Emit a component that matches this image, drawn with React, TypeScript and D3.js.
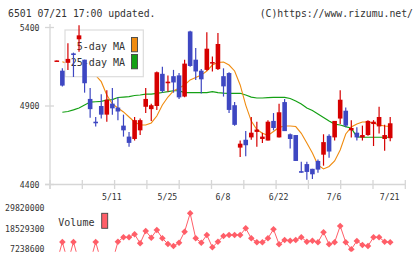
import * as d3 from "d3"
import * as React from "react"

// daily candles, oldest first
const opens = [
  5190, 5125, 5175, 5235, 5325, 5195, 4945, 4800, 4900, 4845,
  4915, 4890, 4775, 4705, 4690, 4745, 4895, 4880, 4900, 5105,
  5045, 5090, 5095, 4960, 5375, 5195, 5125, 5130, 5170, 5135,
  5090, 5110, 4905, 4635, 4685, 4700, 4735, 4690, 4680, 4805,
  4700, 4925, 4720, 4715, 4485, 4530, 4500, 4550, 4590, 4710,
  4700, 4820, 4870, 4745, 4730, 4700, 4715, 4785, 4770, 4690,
  4695,
]
const highs = [
  5192, 5140, 5300, 5240, 5415, 5195, 5015, 4830, 4975, 5000,
  5015, 4955, 4845, 4735, 4830, 4820, 5015, 4915, 5120, 5150,
  5095, 5130, 5110, 5195, 5380, 5270, 5135, 5370, 5215, 5365,
  5140, 5115, 4925, 4680, 4740, 4830, 4800, 4730, 4810, 4855,
  4915, 4945, 4725, 4715, 4545, 4545, 4500, 4560, 4720, 4720,
  4805, 5000, 4890, 4810, 4765, 4775, 4810, 4810, 4895, 4780,
  4830,
]
const lows = [
  5188, 5025, 5130, 5085, 5245, 4985, 4825, 4770, 4820, 4800,
  4845, 4810, 4705, 4640, 4680, 4715, 4855, 4805, 4875, 4985,
  4990, 4985, 4945, 4955, 5150, 5065, 4980, 5125, 5120, 5130,
  4960, 4855, 4775, 4575, 4580, 4685, 4640, 4665, 4680, 4745,
  4700, 4740, 4630, 4550, 4475, 4430, 4435, 4475, 4520, 4570,
  4680, 4785, 4765, 4700, 4680, 4680, 4710, 4645, 4725, 4615,
  4675,
]
const closes = [
  5190, 5030, 5200, 5225, 5350, 5045, 4880, 4790, 4845, 4940,
  4885, 4865, 4745, 4665, 4810, 4810, 4945, 4905, 5115, 4995,
  5055, 5050, 4955, 5170, 5155, 5120, 5070, 5265, 5180, 5295,
  5025, 4875, 4780, 4660, 4650, 4730, 4750, 4705, 4800, 4760,
  4860, 4740, 4690, 4550, 4475, 4480, 4465, 4495, 4670, 4610,
  4805, 4940, 4775, 4760, 4700, 4715, 4805, 4800, 4830, 4715,
  4790,
]
const ma5 = [
  null, 5182, 5170, 5165, 5160, 5140, 5120, 5095, 5055, 4970,
  4913, 4887, 4862, 4830, 4798, 4779, 4779, 4792, 4836, 4906,
  4957, 4996, 5015, 5034, 5066, 5082, 5097, 5123, 5161, 5177,
  5180, 5161, 5123, 5034, 4906, 4804, 4750, 4726, 4713, 4738,
  4764, 4773, 4773, 4769, 4726, 4664, 4600, 4524, 4499, 4515,
  4550, 4620, 4722, 4766, 4785, 4798, 4798, 4792, 4779, 4773,
  4769,
]
const ma25 = [
  null, 4860, 4865, 4875, 4887, 4906, 4925, 4927, 4929, 4938,
  4941, 4954, 4957, 4960, 4967, 4970, 4976, 4976, 4981, 4986,
  4991, 4997, 4997, 4985, 4985, 4985, 4985, 4985, 4991, 4985,
  4982, 4981, 4981, 4981, 4970, 4957, 4951, 4951, 4953, 4955,
  4955, 4955, 4948, 4932, 4913, 4887, 4871, 4849, 4827, 4804,
  4785, 4779, 4769, 4758, 4703, 4701, 4701, 4701, 4701, 4701,
  4701,
]
// days below the panel floor run off the bottom and get clipped
const volumes = [
  0, 11120000, 0, 11120000, 0, 0, 0, 11120000, 0, 0,
  0, 11290000, 13730000, 13730000, 15390000, 10400000, 17220000, 13510000, 17780000, 13170000,
  10010000, 8900000, 10730000, 16840000, 27040000, 13170000, 10730000, 15010000, 8180000, 11290000,
  14450000, 15010000, 15010000, 15010000, 18720000, 13170000, 10960000, 10960000, 13170000, 18170000,
  9850000, 12230000, 11840000, 12230000, 13730000, 11290000, 11840000, 10960000, 16500000, 9850000,
  10960000, 20000000, 10960000, 7070000, 11680000, 9460000, 8900000, 13730000, 13730000, 11290000,
  10960000,
]
const priceTicks = [4400, 4900, 5400]
const volumeTicks = [7238600, 18529300, 29820000]
const dateLabels = ["5/11", "5/25", "6/8", "6/22", "7/6", "7/21"]
const dateLabelIndex = [10, 20, 30, 40, 50, 60]

const UP = "#d60000"
const DOWN = "#3e47c2"
const MA5_COLOR = "#f08c10"
const MA25_COLOR = "#14a014"
const VOL_COLOR = "#ff5e68"
const AXIS = "#d6d6d6"
const TEXT = "#333"
const MONO = "'DejaVu Sans Mono', monospace"

export default function App() {
  const x = d3.scaleLinear().domain([0, closes.length - 1]).range([56.8, 390.2])
  const y = d3.scaleLinear().domain([4400, 5400]).range([184.5, 27.5])
  const yv = d3.scaleLinear().domain([volumeTicks[0], volumeTicks[2]]).range([249, 208.3])
  const grid = d3.scaleLinear().domain([0, 11]).range([50, 405.3])

  const maLine = d3.line<number | null>()
    .defined(d => d != null)
    .x((_, i) => x(i))
    .y(d => y(d as number))
  const volLine = d3.line<number>().x((_, i) => x(i)).y(d => yv(d))

  const bodyW = 4.6
  const diamond = (cx: number, cy: number, r: number) =>
    `M${cx},${cy - r}L${cx + r},${cy}L${cx},${cy + r}L${cx - r},${cy}Z`

  return (
    <svg width={420} height={259} style={{ position: "absolute", left: 0, top: 0, background: "#fff" }}
      fontFamily={MONO}>
      <defs>
        <clipPath id="volClip">
          <rect x={45} y={204} width={370} height={47.8} />
        </clipPath>
      </defs>

      <text x={8} y={16.5} fontSize={9.8} fill={TEXT}>6501 07/21 17:00 updated.</text>
      <text x={413} y={16.5} fontSize={9.8} fill={TEXT} textAnchor="end">(C)https://www.rizumu.net/</text>

      {/* axes */}
      <line x1={50} x2={50} y1={24} y2={189} stroke={AXIS} strokeWidth={1.3} />
      <line x1={45} x2={405.3} y1={184.5} y2={184.5} stroke={AXIS} strokeWidth={1.3} />
      {priceTicks.map(t => (
        <g key={t}>
          <line x1={45} x2={54} y1={y(t)} y2={y(t)} stroke={AXIS} strokeWidth={1.3} />
          <text x={39.5} y={y(t) + 3} fontSize={8.2} fill={TEXT} textAnchor="end">{t}</text>
        </g>
      ))}
      {d3.range(12).map(i => (
        <line key={i} x1={grid(i)} x2={grid(i)} y1={180} y2={189} stroke={AXIS} strokeWidth={1.3} />
      ))}
      {dateLabels.map((d, i) => (
        <text key={d} x={x(dateLabelIndex[i]) - 0.5} y={200} fontSize={8.2} fill={TEXT} textAnchor="middle">{d}</text>
      ))}

      {/* moving averages */}
      <path d={maLine(ma25) ?? ""} fill="none" stroke={MA25_COLOR} strokeWidth={1.2} />
      <path d={maLine(ma5) ?? ""} fill="none" stroke={MA5_COLOR} strokeWidth={1.1} />

      {/* legend box sits over the lines, under the candles */}
      <rect x={65} y={30} width={78.3} height={46.7} fill="#fff" stroke="#dcdcdc" strokeWidth={1.2} />
      <text x={125} y={49.5} fontSize={10} fill={TEXT} textAnchor="end">5-day MA</text>
      <text x={125} y={66} fontSize={10} fill={TEXT} textAnchor="end">25-day MA</text>
      <rect x={131.5} y={37.5} width={6} height={14.3} fill={MA5_COLOR} stroke="#444" strokeWidth={0.9} />
      <rect x={131.5} y={54.5} width={6} height={14.3} fill={MA25_COLOR} stroke="#444" strokeWidth={0.9} />

      {/* candles */}
      {closes.map((c, i) => {
        const o = opens[i]
        const col = c >= o ? UP : DOWN
        const top = y(Math.max(o, c))
        const h = Math.max(1.5, Math.abs(y(o) - y(c)))
        return (
          <g key={i}>
            <line x1={x(i)} x2={x(i)} y1={y(highs[i])} y2={y(lows[i])} stroke={col} strokeWidth={1.2} />
            <rect x={x(i) - bodyW / 2} y={top} width={bodyW} height={h} fill={col} />
          </g>
        )
      })}

      {/* volume */}
      {volumeTicks.map(t => (
        <text key={t} x={44.5} y={yv(t) + 3} fontSize={8.2} fill={TEXT} textAnchor="end">{t}</text>
      ))}
      <text x={58.3} y={225.5} fontSize={10} fill={TEXT}>Volume</text>
      <rect x={101.7} y={213.3} width={6} height={15} fill={VOL_COLOR} stroke="#444" strokeWidth={0.9} />
      <g clipPath="url(#volClip)">
        <path d={volLine(volumes) ?? ""} fill="none" stroke={VOL_COLOR} strokeWidth={1} />
        {volumes.map((v, i) => (
          <path key={i} d={diamond(x(i), yv(v), 3.3)} fill={VOL_COLOR} />
        ))}
      </g>
    </svg>
  )
}
